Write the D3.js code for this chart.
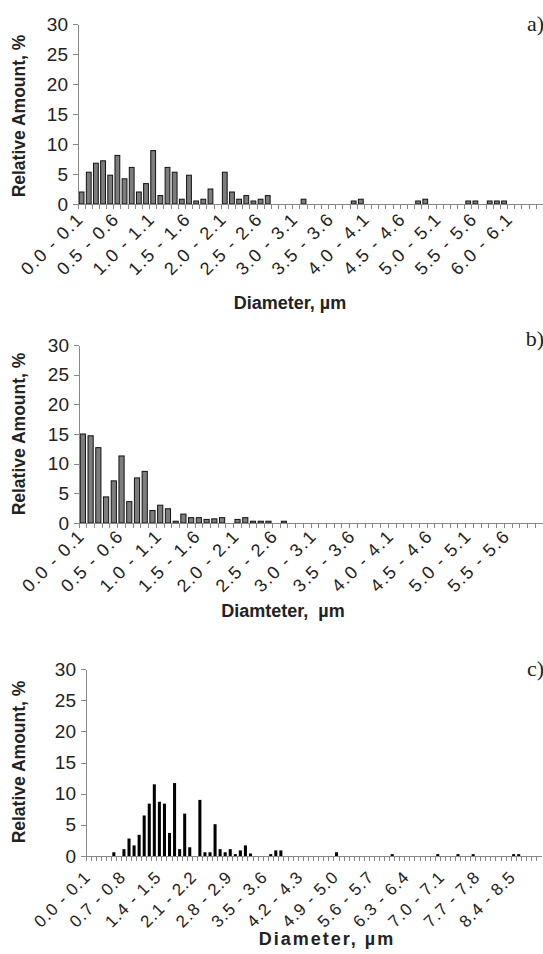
<!DOCTYPE html>
<html>
<head>
<meta charset="utf-8">
<script src="https://cdn.jsdelivr.net/npm/d3@7"></script>
<style>
  body { margin: 0; background: #fff; }
  svg { display: block; }
  text { font-family: Arial, "Liberation Sans", sans-serif; fill: #222; }
  .axis path, .axis line { stroke: #888; shape-rendering: crispEdges; }
  .title { font-weight: bold; }
  .letter { font-family: "Liberation Serif", "Times New Roman", serif; }
</style>
</head>
<body>
<div id="chart"></div>
<script>
// relative amount (%) per 0.1 µm size bin
const amountsA = [
  2.0, 5.3, 6.8, 7.2, 4.8, 8.1, 4.2, 6.1, 2.0, 3.4,
  8.9, 1.4, 6.1, 5.3, 0.8, 4.8, 0.5, 0.8, 2.5, 0,
  5.3, 2.0, 0.8, 1.4, 0.5, 0.8, 1.4, 0, 0, 0,
  0, 0.8, 0, 0, 0, 0, 0, 0, 0.5, 0.8,
  0, 0, 0, 0, 0, 0, 0, 0.5, 0.8, 0,
  0, 0, 0, 0, 0.5, 0.5, 0, 0.5, 0.5, 0.5,
  0, 0, 0, 0, 0
]
const amountsB = [
  15.0, 14.7, 12.7, 4.4, 7.1, 11.3, 3.6, 7.6, 8.7, 2.1,
  3.0, 2.4, 0.3, 1.5, 0.9, 0.9, 0.6, 0.7, 0.9, 0,
  0.6, 0.9, 0.3, 0.3, 0.3, 0, 0.3, 0, 0, 0,
  0, 0, 0, 0, 0, 0, 0, 0, 0, 0,
  0, 0, 0, 0, 0, 0, 0, 0, 0, 0,
  0, 0, 0, 0, 0, 0, 0, 0, 0, 0
]
const amountsC = [
  0, 0, 0, 0, 0, 0.6, 0, 1.1, 2.8, 1.7,
  3.4, 6.5, 8.4, 11.5, 8.7, 8.4, 3.7, 11.7, 1.1, 6.8,
  1.4, 0, 9.0, 0.6, 0.6, 5.1, 1.1, 0.6, 1.1, 0.3,
  0.9, 1.7, 0.4, 0, 0, 0, 0.3, 0.9, 0.9, 0,
  0, 0, 0, 0, 0, 0, 0, 0, 0, 0.6,
  0, 0, 0, 0, 0, 0, 0, 0, 0, 0,
  0.3, 0, 0, 0, 0, 0, 0, 0, 0, 0.3,
  0, 0, 0, 0.3, 0, 0, 0.3, 0, 0, 0,
  0, 0, 0, 0, 0.3, 0.3, 0, 0, 0, 0
]
const yTicks = [0, 5, 10, 15, 20, 25, 30]
const xTitles = ['Diameter, µm', 'Diamteter,  µm', 'Diameter, µm']
const panelLetters = ['a)', 'b)', 'c)']

// bin labels "0.0 - 0.1", "0.1 - 0.2", ...
const binLabels = n => d3.range(n).map(i => `${(i / 10).toFixed(1)} - ${((i + 1) / 10).toFixed(1)}`)

const width = 543, height = 954

const panels = [
  { values: amountsA, left: 78, right: 543.4, top: 24, bottom: 204, every: 5,
    labelSize: 18, labelSpacing: 1.5, labelDy: 16,
    solid: false, titleX: 290, titleY: 309, titleSpacing: 0, yTitleY: 116, letterY: 31 },
  { values: amountsB, left: 79, right: 543, top: 345, bottom: 523, every: 5,
    labelSize: 18, labelSpacing: 1.5, labelDy: 14,
    solid: false, titleX: 283, titleY: 617, titleSpacing: 0, yTitleY: 434, letterY: 346 },
  { values: amountsC, left: 86, right: 541.5, top: 669, bottom: 856, every: 7,
    labelSize: 17, labelSpacing: 1, labelDy: 22,
    solid: true, titleX: 327, titleY: 945, titleSpacing: 2, yTitleY: 762, letterY: 676 }
]

const svg = d3.select('#chart')
  .append('svg')
    .attr('width', width)
    .attr('height', height)
    .attr('viewBox', [0, 0, width, height])

panels.forEach((p, k) => {
  const cats = binLabels(p.values.length)
  const data = cats.map((c, i) => ({ bin: c, value: p.values[i] }))

  const x = d3.scaleBand()
    .domain(cats)
    .range([p.left, p.right])
    .paddingInner(p.solid ? 0.4 : 0.33)
    .paddingOuter(p.solid ? 0.2 : 0.165)
  const step = x.step()
  const edge = c => x(c) - x.paddingOuter() * step // left edge of the bin
  const y = d3.scaleLinear().domain([0, 30]).range([p.bottom, p.top])

  const g = svg.append('g').attr('class', 'panel')

  // bars
  g.append('g')
    .selectAll('rect')
    .data(data.filter(d => d.value > 0))
    .join('rect')
      .attr('x', d => x(d.bin))
      .attr('y', d => y(d.value))
      .attr('width', x.bandwidth())
      .attr('height', d => y(0) - y(d.value))
      .attr('fill', p.solid ? '#000' : '#7d7d7d')
      .attr('stroke', p.solid ? 'none' : '#111')
      .attr('stroke-width', 1)

  // y axis
  g.append('g')
    .attr('class', 'axis y')
    .attr('transform', `translate(${p.left}, 0)`)
    .call(d3.axisLeft(y).tickValues(yTicks).tickSize(5).tickSizeOuter(0).tickPadding(5))
    .call(a => a.selectAll('text').attr('font-size', 19).attr('fill', '#222'))

  // x axis: baseline plus ticks at bin edges
  const xa = g.append('g').attr('class', 'axis x')
  xa.append('line')
    .attr('x1', p.left).attr('x2', p.right)
    .attr('y1', y(0)).attr('y2', y(0))
  xa.selectAll('line.tick')
    .data(cats)
    .join('line')
      .attr('class', 'tick')
      .attr('x1', c => edge(c)).attr('x2', c => edge(c))
      .attr('y1', y(0)).attr('y2', y(0) + 5)

  // rotated bin labels, every n-th bin
  g.append('g')
    .selectAll('text')
    .data(cats.filter((c, i) => i % p.every === 0))
    .join('text')
      .attr('transform', c => `translate(${x(c) + x.bandwidth() / 2 + 3}, ${y(0) + p.labelDy}) rotate(-45)`)
      .attr('text-anchor', 'end')
      .attr('font-size', p.labelSize)
      .attr('letter-spacing', p.labelSpacing)
      .text(c => c)

  // axis titles
  g.append('text')
    .attr('class', 'title')
    .attr('transform', `translate(25, ${p.yTitleY}) rotate(-90)`)
    .attr('text-anchor', 'middle')
    .attr('font-size', 17.5)
    .text('Relative Amount, %')

  g.append('text')
    .attr('class', 'title')
    .attr('x', p.titleX)
    .attr('y', p.titleY)
    .attr('text-anchor', 'middle')
    .attr('font-size', 18)
    .attr('letter-spacing', p.titleSpacing)
    .style('white-space', 'pre')
    .text(xTitles[k])

  g.append('text')
    .attr('class', 'letter')
    .attr('x', 544)
    .attr('y', p.letterY)
    .attr('text-anchor', 'end')
    .attr('font-size', 22)
    .text(panelLetters[k])
})
</script>
</body>
</html>
